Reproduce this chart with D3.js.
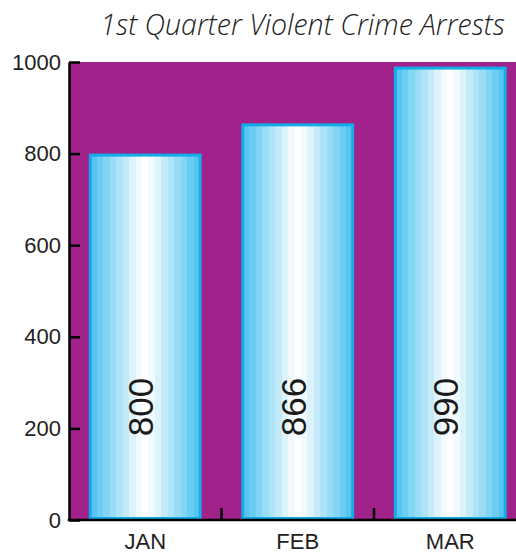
<!DOCTYPE html>
<html>
<head>
<meta charset="utf-8">
<script src="https://cdn.jsdelivr.net/npm/d3@7"></script>
<style>
  html, body { margin: 0; padding: 0; background: #fff; }
  svg { display: block; }
</style>
</head>
<body>
<svg id="chart" width="516" height="553"></svg>
<script>
// Monthly arrest counts for the first quarter
const months = ["JAN", "FEB", "MAR"];
const arrests = [800, 866, 990];
const yTicks = [0, 200, 400, 600, 800, 1000];
const title = "1st Quarter Violent Crime Arrests";

const W = 516, H = 553;
const plot = { left: 69, top: 62, bottom: 520, right: 526.5 };

const svg = d3.select("#chart");

const x = d3.scaleBand()
  .domain(months)
  .range([plot.left, plot.right])
  .paddingInner(0.26)
  .paddingOuter(0.13);

const y = d3.scaleLinear()
  .domain([0, 1000])
  .range([plot.bottom, plot.top]);

// Stepped cylinder-like shading for the bars
const defs = svg.append("defs");
const grad = defs.append("linearGradient")
  .attr("id", "barShade")
  .attr("x1", "0%").attr("x2", "100%").attr("y1", "0%").attr("y2", "0%");
const steps = 8;
const edgeCol = "#56c6f1", midCol = "#f2fafd";
const bandsArr = [];
for (let i = 0; i < steps; i++) bandsArr.push(d3.interpolateRgb(edgeCol, midCol)(i / (steps - 1)));
bandsArr.push("#ffffff");
for (let i = steps - 1; i >= 0; i--) bandsArr.push(d3.interpolateRgb(edgeCol, midCol)(i / (steps - 1)));
const n = bandsArr.length;
bandsArr.forEach((c, i) => {
  grad.append("stop").attr("offset", (i / n * 100) + "%").attr("stop-color", c);
  grad.append("stop").attr("offset", ((i + 1) / n * 100) + "%").attr("stop-color", c);
});

// Plot background
svg.append("rect")
  .attr("x", plot.left).attr("y", plot.top)
  .attr("width", W - plot.left).attr("height", plot.bottom - plot.top)
  .attr("fill", "#a0228a");

// Title
svg.append("text")
  .attr("x", 505).attr("y", 35)
  .attr("text-anchor", "end")
  .attr("font-family", "'Open Sans', sans-serif")
  .attr("font-weight", 300)
  .attr("font-style", "italic")
  .attr("font-size", 28.5)
  .attr("fill", "#222")
  .text(title);

// Bars
const data = months.map((m, i) => ({ m, v: arrests[i] }));
svg.append("g").selectAll("rect")
  .data(data)
  .join("rect")
  .attr("x", d => x(d.m) + 1.5)
  .attr("y", d => y(d.v) + 1.5)
  .attr("width", x.bandwidth() - 3)
  .attr("height", d => y(0) - y(d.v) - 3)
  .attr("fill", "url(#barShade)")
  .attr("stroke", "#12ace8")
  .attr("stroke-width", 3);

// Value labels, rotated, at a fixed height in each bar
svg.append("g").selectAll("text")
  .data(data)
  .join("text")
  .attr("transform", d => `translate(${x(d.m) + x.bandwidth() / 2 + 8},${y(0) - 113}) rotate(-90)`)
  .attr("text-anchor", "middle")
  .attr("font-family", "'Liberation Sans', Arial, sans-serif")
  .attr("font-size", 35)
  .attr("fill", "#1a1a1a")
  .text(d => d.v);

// Y axis
const yAxis = svg.append("g")
  .attr("transform", `translate(${plot.left},0)`)
  .call(d3.axisLeft(y).tickValues(yTicks).tickFormat(d3.format("d"))
    .tickSizeInner(-11).tickSizeOuter(0).tickPadding(8));
yAxis.attr("font-size", null).attr("font-family", null);
yAxis.select(".domain").attr("stroke", "#000").attr("stroke-width", 2.5);
yAxis.selectAll(".tick line").attr("stroke", "#000").attr("stroke-width", 2.5);
yAxis.selectAll(".tick text")
  .attr("font-family", "'Liberation Sans', Arial, sans-serif")
  .attr("font-size", 22)
  .attr("fill", "#222");

// X axis: baseline, category labels, and separator ticks between bands
svg.append("line")
  .attr("x1", plot.left - 1.25).attr("x2", W)
  .attr("y1", y(0)).attr("y2", y(0))
  .attr("stroke", "#000").attr("stroke-width", 2.5);

const xAxis = svg.append("g")
  .attr("transform", `translate(0,${y(0)})`)
  .call(d3.axisBottom(x).tickSize(0).tickPadding(13));
xAxis.attr("font-size", null).attr("font-family", null);
xAxis.select(".domain").remove();
xAxis.selectAll(".tick text")
  .attr("font-family", "'Liberation Sans', Arial, sans-serif")
  .attr("font-size", 22)
  .attr("fill", "#222");

const gap = x.step() * x.paddingInner() / 2;
svg.append("g").selectAll("line")
  .data(months.slice(1))
  .join("line")
  .attr("x1", d => x(d) - gap).attr("x2", d => x(d) - gap)
  .attr("y1", y(0)).attr("y2", y(0) - 12)
  .attr("stroke", "#000").attr("stroke-width", 2.5);
</script>
</body>
</html>
